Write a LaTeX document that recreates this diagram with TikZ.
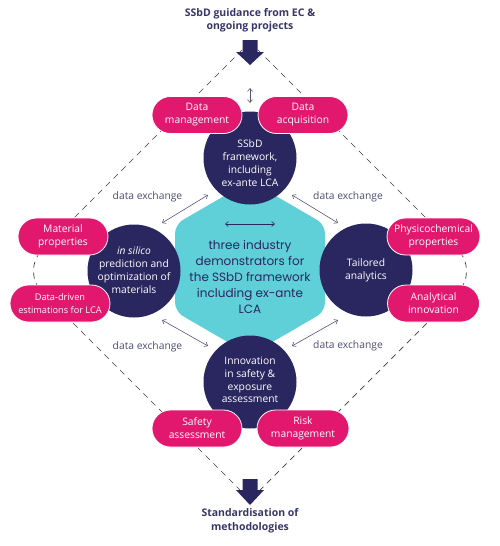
\documentclass[tikz,border=0pt]{standalone}
\usepackage{fontspec}
\setmainfont{Open Sans}
\newfontfamily\hexfont{Poppins}
\usetikzlibrary{shapes.misc,arrows.meta}
\definecolor{ppink}{HTML}{E2186E}
\definecolor{nnavy}{HTML}{2A2660}
\definecolor{tteal}{HTML}{5FD0D8}
\definecolor{lblcol}{HTML}{4B4B72}
\definecolor{ttlcol}{HTML}{37366A}
\definecolor{dashcol}{HTML}{3A3A3A}
\definecolor{arrcol}{HTML}{55557A}
\tikzset{
  pillbox/.style={rounded rectangle, fill=ppink, draw=white, line width=0.8pt,
    text=white, minimum width=90pt, minimum height=37pt, inner sep=0pt, align=center,
    font=\fontsize{10.3}{13}\selectfont},
  circbox/.style={circle, fill=nnavy, minimum size=93pt, inner sep=0pt},
  circtext/.style={text=white, align=center, font=\fontsize{10.3}{12.8}\selectfont},
  lbl/.style={text=lblcol, font=\fontsize{10.3}{12}\selectfont},
  ttl/.style={text=ttlcol, align=center, font=\fontsize{10.5}{13.5}\selectfont\bfseries},
  dashline/.style={draw=dashcol, line width=0.7pt, dash pattern=on 6pt off 5pt, rounded corners=30pt},
  xarrow/.style={draw=arrcol, line width=0.6pt, {Straight Barb[length=3pt,width=5pt]}-{Straight Barb[length=3pt,width=5pt]}},
  thickarrow/.style={fill=nnavy}
}
\begin{document}
\begin{tikzpicture}[x=1pt,y=-1pt]
\useasboundingbox (0,0) rectangle (500,546);
% dashed diamond
\draw[dashline] (250,42) -- (21,271) -- (250,500);
\draw[dashline] (250,42) -- (479,271) -- (250,500);
% hexagon
\fill[tteal, rounded corners=9pt] (250,181) -- (325,224.5) -- (325,311.5) -- (250,355) -- (175,311.5) -- (175,224.5) -- cycle;
\node[text=nnavy, align=center, font=\hexfont\fontsize{12}{16}\selectfont] (hex) at (250,277)
  {three industry\\demonstrators for\\the SSbD framework\\including ex-ante\\LCA};
\coordinate (hl) at (225,224);
\coordinate (hr) at (275,224);
\draw[xarrow, draw=nnavy] (hl) -- (hr);
% circles
\node[circbox] (top) at (250,158) {};
\node[circbox] (left) at (134,271) {};
\node[circbox] (right) at (366,270) {};
\node[circbox] (bot) at (250,382) {};
\node[circtext] (toptext) at (250,163) {SSbD\\framework,\\including\\ex-ante LCA};
\node[circtext] (lefttext) at (134,270) {\textit{in silico}\\prediction and\\optimization of\\materials};
\node[circtext] (righttext) at (366,270) {Tailored\\analytics};
\node[circtext] (bottext) at (250,380) {Innovation\\in safety \&\\exposure\\assessment};
% pills
\node[pillbox] (dm) at (197,115) {Data\\management};
\node[pillbox] (da) at (303,115) {Data\\acquisition};
\node[pillbox] (mp) at (63,236.5) {Material\\properties};
\node[pillbox, minimum width=100pt, font=\fontsize{9.2}{12.5}\selectfont] (dd) at (60,303.5) {Data-driven\\estimations for LCA};
\node[pillbox, minimum width=93pt] (pp) at (433.5,236.5) {Physicochemical\\properties};
\node[pillbox, minimum width=92pt] (ai) at (433.5,303.5) {Analytical\\innovation};
\node[pillbox] (sa) at (197,428.5) {Safety\\assessment};
\node[pillbox, minimum width=92pt] (rm) at (303,428.5) {Risk\\management};
% data exchange arrows
\coordinate (ula) at (208,195); \coordinate (ulb) at (162,223);
\coordinate (ura) at (292,195); \coordinate (urb) at (338,223);
\coordinate (lla) at (162,320); \coordinate (llb) at (208,346);
\coordinate (lra) at (292,346); \coordinate (lrb) at (338,320);
\draw[xarrow] (ula) -- (ulb);
\draw[xarrow] (ura) -- (urb);
\draw[xarrow] (lla) -- (llb);
\draw[xarrow] (lra) -- (lrb);
\node[lbl] (lul) at (147.5,197) {data exchange};
\node[lbl] (lur) at (348,197) {data exchange};
\node[lbl] (lll) at (147.5,347) {data exchange};
\node[lbl] (llr) at (348,346) {data exchange};
% vertical small arrow
\coordinate (va) at (250,88); \coordinate (vb) at (250,103);
\draw[xarrow] (va) -- (vb);
% thick arrows
\fill[thickarrow] (242.5,40) -- (257.5,40) -- (257.5,52) -- (264,52) -- (250,65) -- (236,52) -- (242.5,52) -- cycle;
\fill[thickarrow] (242.5,479) -- (257.5,479) -- (257.5,490) -- (264,490) -- (250,505) -- (236,490) -- (242.5,490) -- cycle;
% titles
\node[ttl] (ttop) at (250,20) {SSbD guidance from EC \&\\ongoing projects};
\node[ttl] (tbot) at (250,520.5) {Standardisation of\\methodologies};
\end{tikzpicture}
\end{document}
